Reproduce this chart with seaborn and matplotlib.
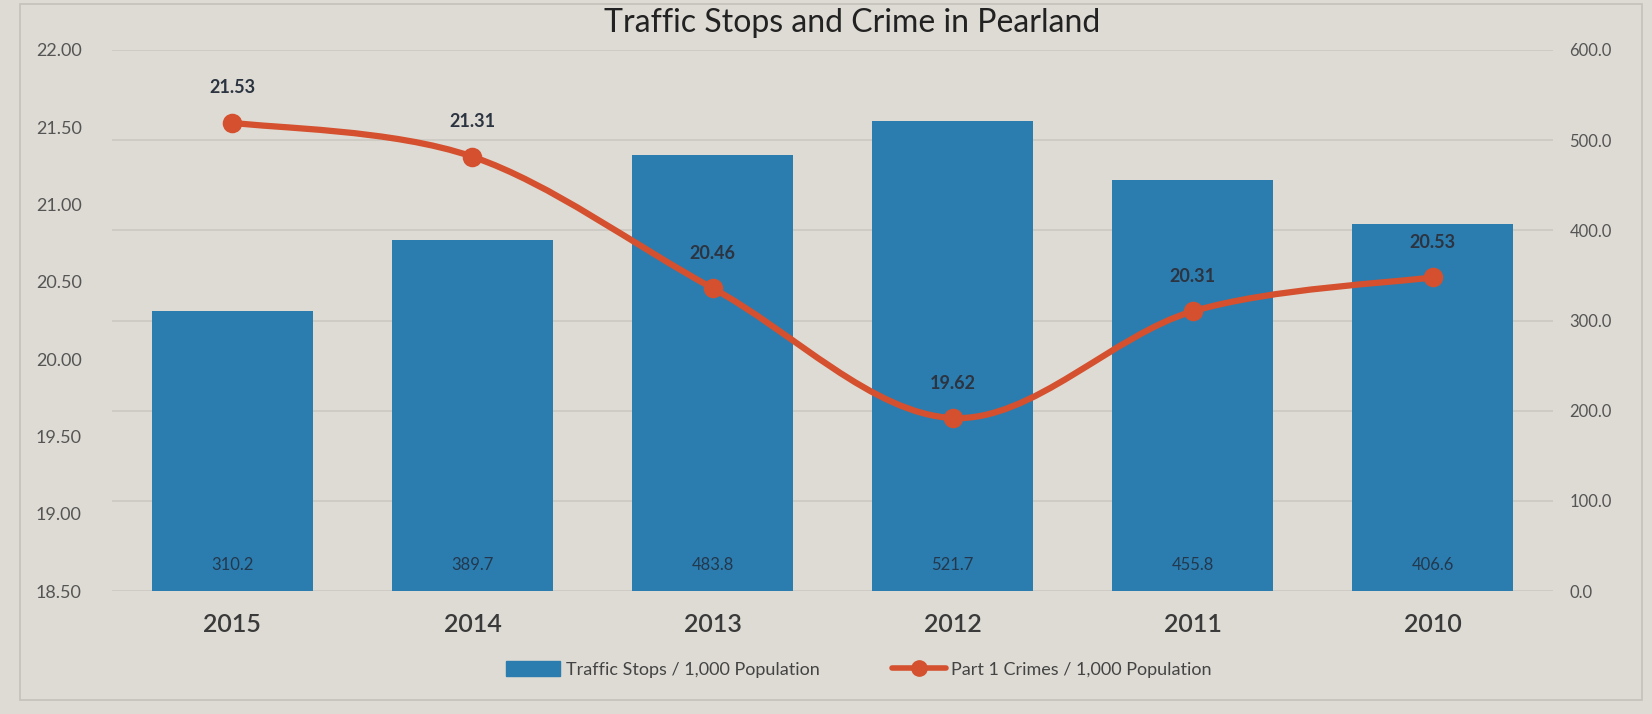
import numpy as np
import pandas as pd
import matplotlib
matplotlib.use("Agg")
import matplotlib.pyplot as plt
import seaborn as sns
from matplotlib.path import Path
from matplotlib.patches import PathPatch, Patch, Rectangle
from matplotlib.lines import Line2D

# ---- data ----
years = ["2015", "2014", "2013", "2012", "2011", "2010"]
traffic_stops = [310.2, 389.7, 483.8, 521.7, 455.8, 406.6]
part1_crimes = [21.53, 21.31, 20.46, 19.62, 20.31, 20.53]
left_ticks = [18.50, 19.00, 19.50, 20.00, 20.50, 21.00, 21.50, 22.00]
right_ticks = [0, 100, 200, 300, 400, 500, 600]
title = "Traffic Stops and Crime in Pearland"
bar_legend = "Traffic Stops / 1,000 Population"
line_legend = "Part 1 Crimes / 1,000 Population"

BG = "#dedbd4"
BAR = "#2b7db0"
LINE = "#d4502e"
TXT = "#3a3a3a"

sns.set_theme(style="white")
plt.rcParams["font.family"] = ["Lato", "DejaVu Sans"]

fig = plt.figure(figsize=(16.52, 7.14), dpi=100)
fig.patch.set_facecolor(BG)
fig.patches.append(Rectangle((0.012, 0.02), 0.982, 0.975, transform=fig.transFigure,
                             fill=False, edgecolor="#c4c1ba", lw=1.2))

ax = fig.add_axes([0.068, 0.172, 0.872, 0.758])
ax.set_facecolor(BG)
df = pd.DataFrame({"year": years, "stops": traffic_stops, "crimes": part1_crimes})

# bars on primary axes (ticks shown on the right)
sns.barplot(data=df, x="year", y="stops", color=BAR, width=0.67, saturation=1,
            linewidth=0, ax=ax, zorder=2)
ax.set_ylim(0, 600)
ax.grid(axis="y", color="#cbc8c1", lw=1.2, zorder=0)
ax.set_axisbelow(True)
ax.set_xlabel("")
ax.set_ylabel("")
ax.tick_params(axis="x", labelsize=18, colors=TXT, length=0, pad=16)
for lab in ax.get_xticklabels():
    lab.set_fontweight("semibold")
for s in ax.spines.values():
    s.set_visible(False)

for i, v in enumerate(traffic_stops):
    ax.annotate(f"{v:.1f}", (i, 0), xytext=(0, 19), textcoords="offset points",
                ha="center", va="center", fontsize=12, color="#23384d")

# line on twin axes (ticks shown on the left)
ax2 = ax.twinx()
ax2.set_ylim(18.5, 22.0)
ax2.grid(False)
for s in ax2.spines.values():
    s.set_visible(False)

# put the primary (bar) scale on the right, the line scale on the left
ax.yaxis.tick_right()
ax.set_yticks(right_ticks)
ax.set_yticklabels([f"{v:.1f}" for v in right_ticks])
ax.tick_params(axis="y", labelsize=12, colors="#555555", length=0, pad=12)
ax2.yaxis.tick_left()
ax2.set_yticks(left_ticks)
ax2.set_yticklabels([f"{v:.2f}" for v in left_ticks])
ax2.tick_params(axis="y", labelsize=13, colors="#555555", length=0, pad=22)

# smooth (Excel-like) curve through the points
x = np.arange(len(part1_crimes), dtype=float)
y = np.array(part1_crimes, dtype=float)
verts = [(x[0], y[0])]
codes = [Path.MOVETO]
n = len(x)
for i in range(n - 1):
    xm1, ym1 = (x[i - 1], y[i - 1]) if i > 0 else (x[i], y[i])
    xp2, yp2 = (x[i + 2], y[i + 2]) if i + 2 < n else (x[i + 1], y[i + 1])
    c1 = (x[i] + (x[i + 1] - xm1) / 6, y[i] + (y[i + 1] - ym1) / 6)
    c2 = (x[i + 1] - (xp2 - x[i]) / 6, y[i + 1] - (yp2 - y[i]) / 6)
    verts += [c1, c2, (x[i + 1], y[i + 1])]
    codes += [Path.CURVE4] * 3
ax2.add_patch(PathPatch(Path(verts, codes), fill=False, edgecolor=LINE, lw=4.5,
                        capstyle="round", zorder=3))
sns.scatterplot(x=x, y=y, color=LINE, s=170, edgecolor=LINE, ax=ax2, zorder=4,
                legend=False)
for xi, yi in zip(x, y):
    ax2.annotate(f"{yi:.2f}", (xi, yi), xytext=(0, 25), textcoords="offset points",
                 ha="center", va="center", fontsize=13, fontweight="bold",
                 color="#2b3440")
ax2.set_xlim(-0.5, len(years) - 0.5)
ax.set_xlim(-0.5, len(years) - 0.5)

fig.text(0.516, 0.968, title, ha="center", va="center", fontsize=23, color="#222222")

handles = [Patch(facecolor=BAR, edgecolor=BAR),
           Line2D([0], [0], color=LINE, lw=4, marker="o", markersize=11)]
fig.legend(handles, [bar_legend, line_legend], loc="center", bbox_to_anchor=(0.52, 0.062),
           ncol=2, frameon=False, fontsize=13, handlelength=3.0, handleheight=0.9,
           handletextpad=0.3, columnspacing=4, labelcolor="#444444")

fig.savefig("out.png", dpi=100, facecolor=BG)
